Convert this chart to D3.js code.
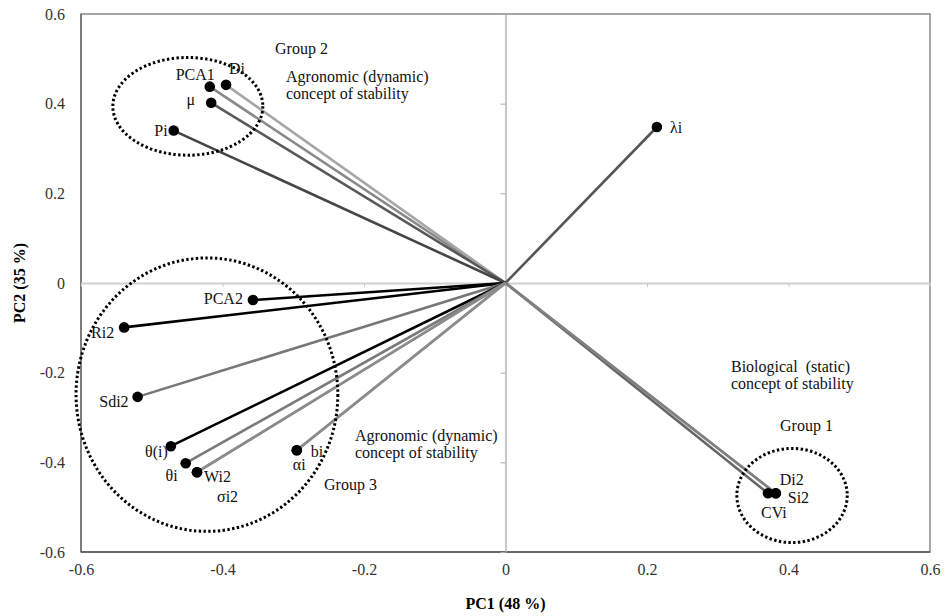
<!DOCTYPE html>
<html>
<head>
<meta charset="utf-8">
<script src="https://cdn.jsdelivr.net/npm/d3@7"></script>
<style>
  html, body { margin: 0; padding: 0; background: #fff; }
  svg text { font-family: "Liberation Serif", "Times New Roman", serif; }
</style>
</head>
<body>
<svg id="chart" width="944" height="616"></svg>
<script>
// PCA loadings of the stability parameters
const variables = ["PCA1", "Di", "μ", "Pi", "λi", "PCA2", "Ri2", "Sdi2", "θ(i)", "θi", "Wi2", "σi2", "bi", "αi", "CVi", "Si2", "Di2"];
const pc1 = [-0.418, -0.395, -0.416, -0.469, 0.214, -0.357, -0.539, -0.520, -0.473, -0.452, -0.436, -0.436, -0.295, -0.295, 0.371, 0.382, 0.382];
const pc2 = [0.438, 0.442, 0.402, 0.340, 0.348, -0.038, -0.099, -0.254, -0.364, -0.402, -0.422, -0.422, -0.373, -0.373, -0.469, -0.469, -0.469];

const xTicks = [-0.6, -0.4, -0.2, 0, 0.2, 0.4, 0.6];
const yTicks = [-0.6, -0.4, -0.2, 0, 0.2, 0.4, 0.6];

// dotted group outlines (centre and radii in PC units)
const groupCx = [0.405, -0.449, -0.422];
const groupCy = [-0.474, 0.394, -0.249];
const groupRx = [0.078, 0.106, 0.185];
const groupRy = [0.105, 0.109, 0.305];

const svg = d3.select("#chart");
const margin = { top: 14, right: 14, bottom: 64, left: 81 };
const W = 944, H = 616;
const fs = 16;

const x = d3.scaleLinear().domain([-0.6, 0.6]).range([margin.left, W - margin.right]);
const y = d3.scaleLinear().domain([-0.6, 0.6]).range([H - margin.bottom, margin.top]);

// line colour and label placement for each variable
const lineColor = {
  "PCA1": "#888", "Di": "#a6a6a6", "μ": "#595959", "Pi": "#464646", "λi": "#555",
  "PCA2": "#000", "Ri2": "#000", "Sdi2": "#777", "θ(i)": "#000", "θi": "#7a7a7a",
  "Wi2": "#8c8c8c", "σi2": "#8c8c8c", "bi": "#8c8c8c", "αi": "#8c8c8c",
  "CVi": "#666", "Si2": "#9a9a9a", "Di2": "#808080"
};
const labelPos = {
  "PCA1": [5, -7, "end"], "Di": [3, -11, "start"], "μ": [-16, 2, "end"], "Pi": [-6, 5, "end"],
  "λi": [13, 6, "start"], "PCA2": [-10, 4, "end"], "Ri2": [-10, 11, "end"], "Sdi2": [-9, 10, "end"],
  "θ(i)": [-3, 11, "end"], "θi": [-8, 18, "end"], "Wi2": [7, 10, "start"], "σi2": [20, 30, "start"],
  "bi": [14, 7, "start"], "αi": [-4, 20, "start"], "CVi": [-7, 25, "start"], "Si2": [12, 10, "start"],
  "Di2": [4, -8, "start"]
};

// plot frame
svg.append("rect")
  .attr("x", x(-0.6)).attr("y", y(0.6))
  .attr("width", x(0.6) - x(-0.6)).attr("height", y(-0.6) - y(0.6))
  .attr("fill", "none").attr("stroke", "#8a8a8a").attr("stroke-width", 1.5);
svg.append("line")
  .attr("x1", x(-0.6)).attr("x2", x(-0.6)).attr("y1", y(0.6)).attr("y2", y(-0.6))
  .attr("stroke", "#666").attr("stroke-width", 1.3);
svg.append("line")
  .attr("x1", x(-0.6)).attr("x2", x(0.6)).attr("y1", y(-0.6)).attr("y2", y(-0.6))
  .attr("stroke", "#555").attr("stroke-width", 1.3);

// zero axes with small tick marks
const xZero = svg.append("g")
  .attr("transform", `translate(0,${y(0)})`)
  .call(d3.axisBottom(x).tickValues(xTicks).tickSize(4).tickFormat("").tickSizeOuter(0));
xZero.select(".domain").attr("stroke", "#d0d0d0").attr("stroke-width", 2);
xZero.selectAll(".tick line").attr("stroke", "#c8c8c8");

const yZero = svg.append("g")
  .attr("transform", `translate(${x(0)},0)`)
  .call(d3.axisLeft(y).tickValues(yTicks).tickSize(5).tickFormat("").tickSizeOuter(0));
yZero.select(".domain").attr("stroke", "#aaa").attr("stroke-width", 1.3);
yZero.selectAll(".tick line").attr("stroke", "#aaa");

// tick labels on the frame (plain hyphen minus, as in the source)
const fmt = d => String(d);
const xLab = svg.append("g")
  .attr("transform", `translate(0,${y(-0.6)})`)
  .call(d3.axisBottom(x).tickValues(xTicks).tickSize(0).tickPadding(12).tickFormat(fmt));
xLab.select(".domain").remove();
xLab.selectAll("text").attr("font-size", fs).attr("fill", "#333")
  .attr("font-family", "Liberation Serif");

const yLab = svg.append("g")
  .attr("transform", `translate(${x(-0.6)},0)`)
  .call(d3.axisLeft(y).tickValues(yTicks).tickSize(0).tickPadding(16).tickFormat(fmt));
yLab.select(".domain").remove();
yLab.selectAll("text").attr("font-size", fs).attr("fill", "#333")
  .attr("font-family", "Liberation Serif");

// axis titles
svg.append("text")
  .attr("x", x(0)).attr("y", 609)
  .attr("text-anchor", "middle").attr("font-size", fs).attr("font-weight", "bold")
  .text("PC1 (48 %)");
svg.append("text")
  .attr("transform", `translate(25,${y(0)}) rotate(-90)`)
  .attr("text-anchor", "middle").attr("font-size", fs).attr("font-weight", "bold")
  .text("PC2 (35 %)");

const rows = variables.map((v, i) => ({ name: v, px: pc1[i], py: pc2[i] }));

// vectors from the origin
svg.append("g").selectAll("line")
  .data(rows)
  .join("line")
  .attr("x1", x(0)).attr("y1", y(0))
  .attr("x2", d => x(d.px)).attr("y2", d => y(d.py))
  .attr("stroke", d => lineColor[d.name])
  .attr("stroke-width", 2.6);

// group outlines
const groups = groupCx.map((c, i) => ({ cx: c, cy: groupCy[i], rx: groupRx[i], ry: groupRy[i] }));
svg.append("g").selectAll("ellipse")
  .data(groups)
  .join("ellipse")
  .attr("cx", d => x(d.cx)).attr("cy", d => y(d.cy))
  .attr("rx", d => x(d.cx + d.rx) - x(d.cx))
  .attr("ry", d => y(d.cy) - y(d.cy + d.ry))
  .attr("fill", "none").attr("stroke", "#000")
  .attr("stroke-width", 3).attr("stroke-dasharray", "2.4 2.4");

// end points
svg.append("g").selectAll("circle")
  .data(rows)
  .join("circle")
  .attr("cx", d => x(d.px)).attr("cy", d => y(d.py))
  .attr("r", 5.3).attr("fill", "#000");

// point labels
svg.append("g").selectAll("text")
  .data(rows)
  .join("text")
  .attr("x", d => x(d.px) + labelPos[d.name][0])
  .attr("y", d => y(d.py) + labelPos[d.name][1])
  .attr("text-anchor", d => labelPos[d.name][2])
  .attr("font-size", fs).attr("fill", "#111")
  .text(d => d.name);

// group annotations
const notes = [
  { t: "Group 2", x: 275, y: 54 },
  { t: "Agronomic (dynamic)", x: 286, y: 82 },
  { t: "concept of stability", x: 286, y: 99 },
  { t: "Agronomic (dynamic)", x: 355, y: 441 },
  { t: "concept of stability", x: 355, y: 458 },
  { t: "Group 3", x: 324, y: 490 },
  { t: "Biological  (static)", x: 731, y: 372 },
  { t: "concept of stability", x: 731, y: 389 },
  { t: "Group 1", x: 780, y: 431 }
];
svg.append("g").selectAll("text")
  .data(notes)
  .join("text")
  .attr("x", d => d.x).attr("y", d => d.y)
  .attr("font-size", fs).attr("fill", "#111")
  .attr("xml:space", "preserve").style("white-space", "pre")
  .text(d => d.t);
</script>
</body>
</html>
